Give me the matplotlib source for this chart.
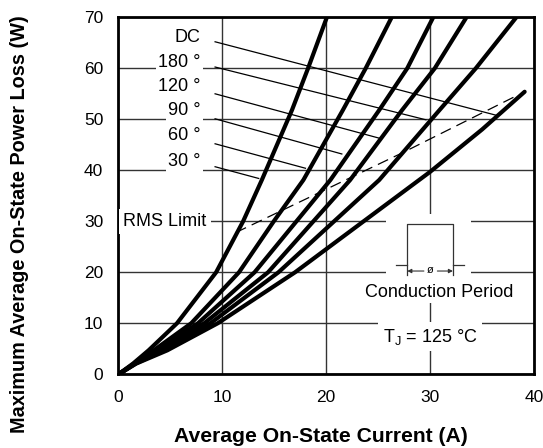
import matplotlib.pyplot as plt
from matplotlib.patches import Rectangle

plt.rcParams['font.family'] = ['Liberation Sans', 'DejaVu Sans']
plt.rcParams['mathtext.fontset'] = 'custom'
plt.rcParams['mathtext.rm'] = 'Liberation Sans'
plt.rcParams['mathtext.it'] = 'Liberation Sans:italic'

# curves: average current (A) vs power loss (W)
i_30 = [0, 1.4, 2.9, 5.63, 9.4, 12.0, 13.8, 16.7, 18.25, 20.06]
p_30 = [0, 2.1, 4.7, 10, 20, 30, 38.1, 51.8, 60, 70]
i_60 = [0, 1.5, 3.4, 7.0, 11.6, 14.95, 17.8, 21.6, 23.8, 26.3]
p_60 = [0, 2.1, 4.7, 10, 20, 30, 38.1, 51.8, 60, 70]
i_90 = [0, 1.55, 3.7, 7.65, 13.1, 20.4, 25.1, 27.8, 30.3]
p_90 = [0, 2.1, 4.7, 10, 20, 38.1, 51.8, 60, 70]
i_120 = [0, 1.6, 4.0, 8.25, 14.4, 22.3, 27.3, 30.45, 33.5]
p_120 = [0, 2.1, 4.7, 10, 20, 38.1, 51.8, 60, 70]
i_180 = [0, 1.65, 4.35, 8.85, 15.4, 25.1, 30.9, 34.4, 38.3]
p_180 = [0, 2.1, 4.7, 10, 20, 38.1, 51.8, 60, 70]
i_dc = [0, 1.7, 4.7, 9.55, 17.0, 30.0, 35.0, 39.1]
p_dc = [0, 2.1, 4.7, 10, 20, 39.7, 48.0, 55.4]

# RMS limit (dashed)
i_rms = [11.3, 27.5, 38.5]
p_rms = [27.8, 43.6, 54.8]

labels = ['DC', '180 °', '120 °', '90 °', '60 °', '30 °']
label_y = [66.1, 61.2, 56.5, 51.8, 46.9, 41.8]
# leader lines: start (x, y) and end (x, y)
lead_x0 = 9.3
lead_y0 = [65.2, 60.25, 55.0, 50.1, 45.2, 40.7]
lead_x1 = [36.35, 29.6, 25.1, 21.5, 18.0, 13.5]
lead_y1 = [50.8, 49.9, 46.3, 43.2, 40.4, 38.4]

fig = plt.figure(figsize=(5.43, 4.48), dpi=100)
ax = fig.add_axes([0.2182, 0.1645, 0.7652, 0.7969])
ax.set_xlim(0, 40)
ax.set_ylim(0, 70)
ax.set_xticks([0, 10, 20, 30, 40])
ax.set_yticks(range(0, 71, 10))
ax.grid(True, color='#333333', lw=1.0)
ax.set_axisbelow(True)
ax.tick_params(length=0, pad=11, labelsize=12.5)
for sp in ax.spines.values():
    sp.set_linewidth(2)

for xs, ys in [(i_30, p_30), (i_60, p_60), (i_90, p_90),
               (i_120, p_120), (i_180, p_180), (i_dc, p_dc)]:
    ax.plot(xs, ys, color='black', lw=3, solid_capstyle='round',
            solid_joinstyle='round', zorder=3)

ax.plot(i_rms, p_rms, color='black', lw=0.9, dashes=(9, 5), zorder=3)

for lab, ly, y0, x1, y1 in zip(labels, label_y, lead_y0, lead_x1, lead_y1):
    ax.plot([lead_x0, x1], [y0, y1], color='black', lw=0.9, zorder=2.5)
    ax.text(7.9, ly, lab, ha='right', va='center', fontsize=13, zorder=4,
            bbox=dict(facecolor='white', edgecolor='none', pad=1.5))

ax.text(0.45, 30, 'RMS Limit', ha='left', va='center', fontsize=13, zorder=4,
        bbox=dict(facecolor='white', edgecolor='none', pad=3))

# conduction period icon
ax.add_patch(Rectangle((25.8, 17.5), 8.1, 14.0, facecolor='white',
                       edgecolor='none', zorder=1.5))
ic = dict(color='#333333', lw=0.9, zorder=3)
ax.plot([27.8, 27.8, 32.2, 32.2], [19.5, 29.4, 29.4, 19.5], **ic)
ax.plot([26.7, 27.8], [21.4, 21.4], **ic)
ax.plot([32.2, 33.3], [21.4, 21.4], **ic)
ax.annotate('', xy=(27.8, 20.25), xytext=(29.4, 20.25),
            arrowprops=dict(arrowstyle='-|>', color='#333333', lw=0.8,
                            mutation_scale=6, shrinkA=0, shrinkB=0), zorder=3)
ax.annotate('', xy=(32.2, 20.25), xytext=(30.7, 20.25),
            arrowprops=dict(arrowstyle='-|>', color='#333333', lw=0.8,
                            mutation_scale=6, shrinkA=0, shrinkB=0), zorder=3)
ax.text(30.05, 20.4, 'ø', ha='center', va='center', fontsize=8, zorder=3)
ax.text(30.9, 16.1, 'Conduction Period', ha='center', va='center',
        fontsize=13, zorder=4,
        bbox=dict(facecolor='white', edgecolor='none', pad=1.5))
ax.text(30.0, 7.4, r'T$_\mathregular{J}$ = 125 °C', ha='center', va='center',
        fontsize=13, zorder=4,
        bbox=dict(facecolor='white', edgecolor='none', pad=3))

ax.set_xlabel('Average On-State Current (A)', fontsize=15.2,
              fontweight='bold')
ax.xaxis.set_label_coords(0.486, -0.148)
ax.set_ylabel('Maximum Average On-State Power Loss (W)', fontsize=14.3,
              fontweight='bold')
ax.yaxis.set_label_coords(-0.215, 0.421)

fig.savefig('out.png', dpi=100)
